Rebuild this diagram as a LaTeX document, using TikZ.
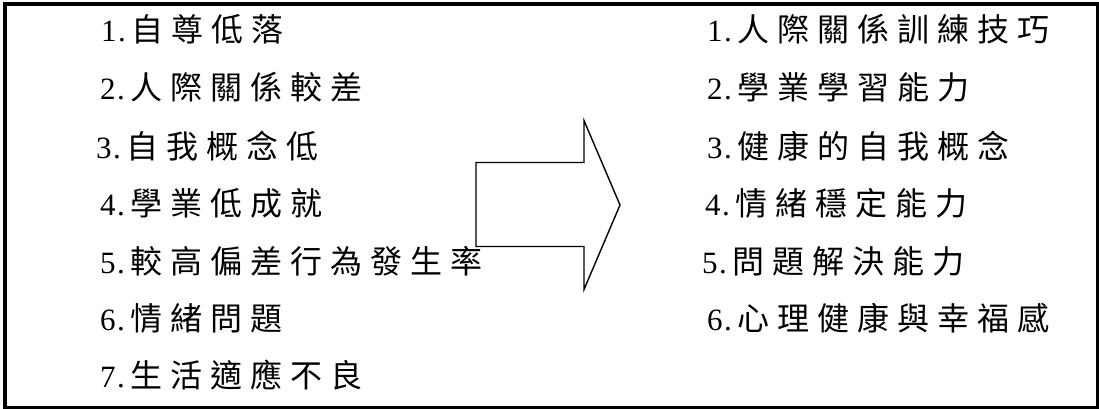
\documentclass[tikz,border=0pt]{standalone}
\usepackage{fontspec}
\setmainfont{Liberation Serif}
\newfontfamily\cjk[LetterSpace=25]{Noto Sans CJK TC}
\tikzset{
  item/.style={anchor=base west, inner sep=0pt, font=\fontsize{31}{31}\selectfont},
  frame/.style={draw=black, line width=4pt},
  bigarrow/.style={draw=black, line width=1.4pt, line join=miter}
}
\newcommand{\itm}[2]{\makebox[30.5pt][l]{#1\kern1.5pt.}{\fontsize{32}{32}\selectfont\cjk #2}}
\begin{document}
\begin{tikzpicture}[x=1pt,y=-1pt]
\useasboundingbox (0,0) rectangle (1099,409);
\draw[frame] (5,4.5) rectangle (1097.5,407.5);
% left list
\node[item] (l1) at (101,42) {\itm{1}{自尊低落}};
\node[item] (l2) at (100,100) {\itm{2}{人際關係較差}};
\node[item] (l3) at (96,158) {\itm{3}{自我概念低}};
\node[item] (l4) at (100,215) {\itm{4}{學業低成就}};
\node[item] (l5) at (100,273) {\itm{5}{較高偏差行為發生率}};
\node[item] (l6) at (100,330) {\itm{6}{情緒問題}};
\node[item] (l7) at (100,387) {\itm{7}{生活適應不良}};
% right list
\node[item] (r1) at (707,42) {\itm{1}{人際關係訓練技巧}};
\node[item] (r2) at (707,100) {\itm{2}{學業學習能力}};
\node[item] (r3) at (707,158) {\itm{3}{健康的自我概念}};
\node[item] (r4) at (705,215) {\itm{4}{情緒穩定能力}};
\node[item] (r5) at (702,273) {\itm{5}{問題解決能力}};
\node[item] (r6) at (707,330) {\itm{6}{心理健康與幸福感}};
% arrow
\draw[bigarrow] (476,162.5) -- (584,162.5) -- (584,120.5) -- (620,205) -- (584,289.5) -- (584,246.5) -- (476,246.5) -- cycle;
\end{tikzpicture}
\end{document}
